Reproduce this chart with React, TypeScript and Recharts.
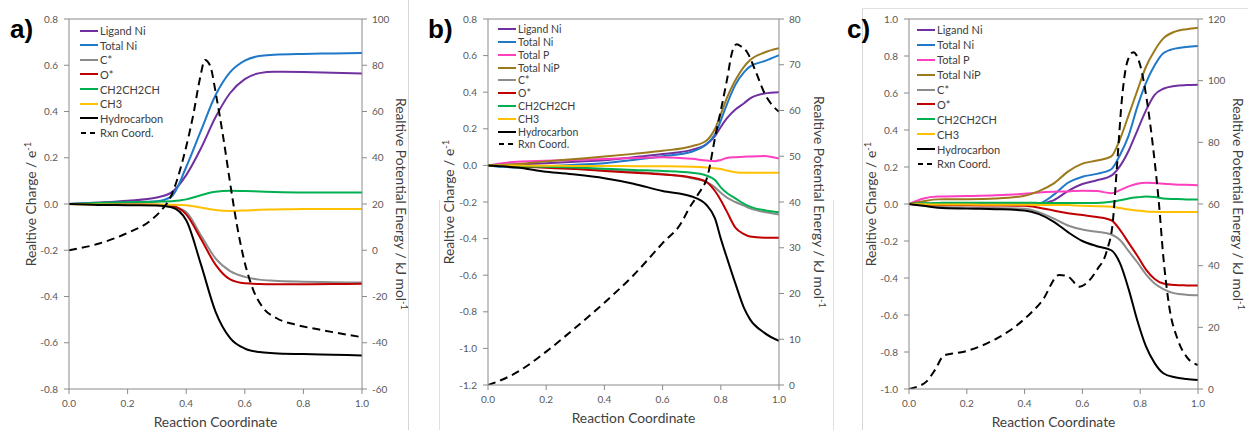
import { LineChart, Line, XAxis, YAxis, ReferenceLine } from "recharts";
import type { FC, ReactNode } from "react";

// ---- shared ----
const xTicks = [0, 0.2, 0.4, 0.6, 0.8, 1];

const COLORS: Record<string, string> = {
  ligandNi: "#7030a0",
  totalNi: "#1f78c8",
  totalP: "#ff3fbf",
  totalNiP: "#9c7a1c",
  cStar: "#8c8c8c",
  oStar: "#c00000",
  ch2: "#00b050",
  ch3: "#ffc000",
  hydro: "#000000",
};

const NAMES: Record<string, string> = {
  ligandNi: "Ligand Ni",
  totalNi: "Total Ni",
  totalP: "Total P",
  totalNiP: "Total NiP",
  cStar: "C*",
  oStar: "O*",
  ch2: "CH2CH2CH",
  ch3: "CH3",
  hydro: "Hydrocarbon",
};

// ---- panel a ----
const aX = [0, 0.1, 0.2, 0.3, 0.35, 0.4, 0.45, 0.5, 0.55, 0.6, 0.65, 0.7, 0.8, 0.9, 1.0];
const aLigandNi = [0, 0.006, 0.014, 0.028, 0.05, 0.125, 0.24, 0.375, 0.48, 0.54, 0.566, 0.572, 0.571, 0.568, 0.564];
const aTotalNi = [0, 0.004, 0.007, 0.012, 0.033, 0.16, 0.316, 0.47, 0.57, 0.62, 0.64, 0.645, 0.649, 0.651, 0.653];
const aCStar = [0, -0.002, -0.003, -0.004, -0.01, -0.035, -0.135, -0.235, -0.29, -0.315, -0.327, -0.332, -0.336, -0.338, -0.34];
const aOStar = [0, -0.001, -0.002, -0.003, -0.008, -0.045, -0.15, -0.262, -0.326, -0.343, -0.346, -0.347, -0.347, -0.346, -0.345];
const aCh2 = [0, 0.004, 0.008, 0.01, 0.012, 0.02, 0.038, 0.053, 0.057, 0.056, 0.054, 0.052, 0.05, 0.05, 0.05];
const aCh3 = [0, -0.002, -0.002, -0.002, -0.003, -0.005, -0.015, -0.026, -0.03, -0.028, -0.025, -0.024, -0.022, -0.022, -0.022];
const aHydro = [0, -0.004, -0.005, -0.006, -0.014, -0.07, -0.26, -0.465, -0.58, -0.625, -0.64, -0.645, -0.649, -0.652, -0.655];
const aRxnX = [0, 0.1, 0.2, 0.28, 0.32, 0.345, 0.39, 0.424, 0.447, 0.464, 0.481, 0.504, 0.527, 0.55, 0.572, 0.595, 0.629, 0.663, 0.709, 0.777, 0.85, 0.9, 1.0];
const aRxnE = [0, 2.8, 7.5, 13, 18, 22.5, 39.8, 58.5, 74.3, 82.3, 80, 65.7, 48.4, 29, 11.7, -2.8, -17.2, -25, -29.4, -32.3, -34.2, -35.4, -37.6];
const aChargeTicks = [-0.8, -0.6, -0.4, -0.2, 0, 0.2, 0.4, 0.6, 0.8];
const aEnergyTicks = [-60, -40, -20, 0, 20, 40, 60, 80, 100];

// ---- panel b ----
const bX = [0, 0.05, 0.1, 0.2, 0.3, 0.4, 0.5, 0.6, 0.7, 0.75, 0.78, 0.8, 0.82, 0.85, 0.88, 0.9, 0.95, 1.0];
const bLigandNi = [0, 0.002, 0.005, 0.012, 0.02, 0.028, 0.045, 0.062, 0.085, 0.115, 0.16, 0.21, 0.255, 0.305, 0.34, 0.365, 0.393, 0.4];
const bTotalNi = [0, -0.008, -0.012, -0.005, 0.004, 0.012, 0.03, 0.05, 0.075, 0.115, 0.17, 0.245, 0.33, 0.44, 0.51, 0.54, 0.57, 0.603];
const bTotalP = [0, 0.012, 0.02, 0.025, 0.03, 0.035, 0.04, 0.045, 0.036, 0.027, 0.023, 0.03, 0.04, 0.045, 0.047, 0.049, 0.052, 0.037];
const bTotalNiP = [0, 0.004, 0.008, 0.022, 0.035, 0.048, 0.063, 0.08, 0.105, 0.135, 0.2, 0.28, 0.365, 0.465, 0.54, 0.575, 0.617, 0.64];
const bCStar = [0, -0.003, -0.005, -0.01, -0.017, -0.025, -0.035, -0.047, -0.07, -0.09, -0.12, -0.15, -0.175, -0.2, -0.22, -0.235, -0.255, -0.268];
const bOStar = [0, -0.003, -0.006, -0.013, -0.02, -0.03, -0.04, -0.05, -0.066, -0.09, -0.14, -0.19, -0.25, -0.34, -0.375, -0.388, -0.395, -0.396];
const bCh2 = [0, -0.002, -0.004, -0.008, -0.012, -0.018, -0.025, -0.03, -0.04, -0.055, -0.08, -0.12, -0.15, -0.18, -0.21, -0.225, -0.245, -0.256];
const bCh3 = [0, 0, -0.001, -0.002, -0.003, -0.003, -0.004, -0.005, -0.008, -0.012, -0.016, -0.02, -0.028, -0.037, -0.04, -0.04, -0.04, -0.04];
const bHydro = [0, -0.005, -0.012, -0.035, -0.05, -0.07, -0.1, -0.14, -0.17, -0.215, -0.29, -0.4, -0.5, -0.645, -0.78, -0.84, -0.915, -0.959];
const bRxnX = [0, 0.05, 0.1, 0.2, 0.3, 0.4, 0.5, 0.6, 0.665, 0.69, 0.72, 0.757, 0.78, 0.8, 0.82, 0.84, 0.855, 0.87, 0.89, 0.92, 0.95, 1.0];
const bRxnE = [0, 1.2, 2.8, 7.3, 12.5, 18, 24, 31, 35.5, 38.5, 41.5, 46.3, 54, 60, 66.3, 73, 74.5, 74, 72.8, 68.5, 63.8, 59.7];
const bChargeTicks = [-1.2, -1.0, -0.8, -0.6, -0.4, -0.2, 0, 0.2, 0.4, 0.6, 0.8];
const bEnergyTicks = [0, 10, 20, 30, 40, 50, 60, 70, 80];

// ---- panel c ----
const cX = [0, 0.05, 0.1, 0.2, 0.3, 0.4, 0.45, 0.5, 0.55, 0.6, 0.65, 0.7, 0.73, 0.76, 0.79, 0.82, 0.85, 0.88, 0.92, 0.96, 1.0];
const cLigandNi = [0, 0.001, 0.002, 0.002, 0.002, 0.002, 0.003, 0.02, 0.07, 0.108, 0.128, 0.153, 0.205, 0.288, 0.397, 0.506, 0.59, 0.623, 0.638, 0.643, 0.645];
const cTotalNi = [0, 0.001, 0.001, 0.001, 0.001, 0.001, 0.004, 0.049, 0.115, 0.147, 0.163, 0.188, 0.265, 0.37, 0.525, 0.655, 0.75, 0.815, 0.84, 0.849, 0.854];
const cTotalP = [0, 0.03, 0.04, 0.043, 0.047, 0.055, 0.062, 0.066, 0.068, 0.072, 0.07, 0.058, 0.075, 0.095, 0.11, 0.115, 0.113, 0.11, 0.106, 0.104, 0.102];
const cTotalNiP = [0, 0.015, 0.025, 0.026, 0.03, 0.045, 0.07, 0.11, 0.175, 0.218, 0.235, 0.258, 0.35, 0.48, 0.613, 0.742, 0.83, 0.895, 0.932, 0.945, 0.953];
const cCStar = [0, -0.008, -0.015, -0.02, -0.022, -0.025, -0.045, -0.078, -0.116, -0.138, -0.15, -0.165, -0.195, -0.255, -0.315, -0.38, -0.43, -0.46, -0.483, -0.49, -0.493];
const cOStar = [0, -0.003, -0.005, -0.007, -0.008, -0.01, -0.02, -0.035, -0.05, -0.06, -0.07, -0.088, -0.14, -0.21, -0.28, -0.355, -0.405, -0.43, -0.438, -0.44, -0.441];
const cCh2 = [0, 0.004, 0.006, 0.007, 0.007, 0.007, 0.006, 0.005, 0.005, 0.005, 0.006, 0.012, 0.02, 0.03, 0.036, 0.04, 0.038, 0.03, 0.027, 0.025, 0.025];
const cCh3 = [0, -0.002, -0.003, -0.003, -0.004, -0.004, -0.005, -0.005, -0.006, -0.01, -0.012, -0.015, -0.022, -0.03, -0.035, -0.04, -0.042, -0.043, -0.043, -0.043, -0.043];
const cHydro = [0, -0.01, -0.02, -0.025, -0.028, -0.035, -0.055, -0.095, -0.152, -0.2, -0.228, -0.25, -0.32, -0.46, -0.63, -0.77, -0.86, -0.915, -0.937, -0.946, -0.951];
const cRxnX = [0, 0.03, 0.06, 0.09, 0.12, 0.15, 0.19, 0.25, 0.3, 0.36, 0.42, 0.46, 0.52, 0.55, 0.59, 0.62, 0.65, 0.685, 0.705, 0.72, 0.737, 0.755, 0.776, 0.8, 0.822, 0.845, 0.865, 0.88, 0.9, 0.93, 0.96, 1.0];
const cRxnE = [0, 0.8, 2.4, 6.2, 10.8, 11.5, 12.1, 14, 16.2, 19.7, 24.5, 28.5, 37, 36.5, 33.2, 34.8, 38.6, 45, 54, 72.7, 94.3, 106, 109.2, 105, 94.3, 78, 60, 42.9, 27, 16, 10.5, 7.8];
const cChargeTicks = [-1.0, -0.8, -0.6, -0.4, -0.2, 0, 0.2, 0.4, 0.6, 0.8, 1.0];
const cEnergyTicks = [0, 20, 40, 60, 80, 100, 120];

const AXIS = "#8a8a8a";
const TICK = { fill: "#595959", fontSize: 10, fontFamily: "Lato, sans-serif" };

interface Series {
  key: string;
  values: number[];
}

interface PanelProps {
  tag: string;
  left: number;
  width: number;
  plotLeft: number;
  plotRight: number;
  plotBottom: number;
  xs: number[];
  series: Series[];
  rxnX: number[];
  rxnE: number[];
  chargeTicks: number[];
  energyTicks: number[];
  legendLeft: number;
  legendTop: number;
  legendStep: number;
  legendFont: number;
  leftTitleX: number;
  rightTitleX: number;
  xTitleY: number;
}

const Rotated: FC<{ x: number; y: number; angle: number; children: ReactNode }> = ({ x, y, angle, children }) => (
  <div
    style={{
      position: "absolute",
      left: x,
      top: y,
      transform: `translate(-50%, -50%) rotate(${angle}deg)`,
      whiteSpace: "nowrap",
      fontFamily: "Lato, sans-serif",
      fontSize: 13.8,
      color: "#404040",
      lineHeight: "16px",
    }}
  >
    {children}
  </div>
);

const Sup: FC<{ children: ReactNode }> = ({ children }) => (
  <span style={{ fontSize: 9.5, position: "relative", top: -5 }}>{children}</span>
);

const Panel: FC<PanelProps> = (p) => {
  const rows = p.xs.map((x, i) => {
    const row: Record<string, number> = { x };
    p.series.forEach((s) => {
      row[s.key] = s.values[i];
    });
    return row;
  });
  const rxnRows = p.rxnX.map((x, i) => ({ x, e: p.rxnE[i] }));
  const cMin = p.chargeTicks[0];
  const cMax = p.chargeTicks[p.chargeTicks.length - 1];
  const eMin = p.energyTicks[0];
  const eMax = p.energyTicks[p.energyTicks.length - 1];
  const plotMid = (19 + p.plotBottom) / 2;

  return (
    <div style={{ position: "absolute", left: p.left, top: 0, width: p.width, height: 430 }}>
      <LineChart
        width={p.width}
        height={430}
        data={rows}
        margin={{ top: 19, left: p.plotLeft - 50, right: p.width - p.plotRight - 40, bottom: 430 - p.plotBottom - 20 }}
      >
        <XAxis
          dataKey="x"
          type="number"
          domain={[0, 1]}
          ticks={xTicks}
          tickFormatter={(v: number) => v.toFixed(1)}
          tick={TICK}
          height={20}
          tickSize={5}
          tickMargin={6}
          axisLine={{ stroke: AXIS }}
          tickLine={{ stroke: AXIS }}
          allowDataOverflow
        />
        <YAxis
          yAxisId="left"
          type="number"
          domain={[cMin, cMax]}
          ticks={p.chargeTicks}
          tickFormatter={(v: number) => v.toFixed(1)}
          tick={TICK}
          width={50}
          tickSize={5}
          tickMargin={6}
          axisLine={{ stroke: AXIS }}
          tickLine={{ stroke: AXIS }}
          allowDataOverflow
        />
        <YAxis
          yAxisId="right"
          orientation="right"
          type="number"
          domain={[eMin, eMax]}
          ticks={p.energyTicks}
          tick={TICK}
          width={40}
          tickSize={5}
          tickMargin={5}
          axisLine={{ stroke: AXIS }}
          tickLine={{ stroke: AXIS }}
          allowDataOverflow
        />
        <ReferenceLine yAxisId="left" y={cMax} stroke={AXIS} strokeWidth={1} />
        {p.series.map((s) => (
          <Line
            key={s.key}
            yAxisId="left"
            type="monotone"
            dataKey={s.key}
            stroke={COLORS[s.key]}
            strokeWidth={2}
            dot={false}
            activeDot={false}
            isAnimationActive={false}
          />
        ))}
        <Line
          yAxisId="right"
          data={rxnRows}
          type="monotone"
          dataKey="e"
          stroke="#000"
          strokeWidth={2}
          strokeDasharray="8 5"
          dot={false}
          activeDot={false}
          isAnimationActive={false}
        />
      </LineChart>

      {/* legend */}
      <div style={{ position: "absolute", left: p.legendLeft, top: p.legendTop, fontFamily: "Lato, sans-serif", fontSize: p.legendFont, color: "#404040" }}>
        {[...p.series.map((s) => s.key), "rxn"].map((k) => (
          <div key={k} style={{ display: "flex", alignItems: "center", height: p.legendStep, whiteSpace: "nowrap" }}>
            <svg width={18} height={6} style={{ marginRight: 2 }}>
              {k === "rxn" ? (
                <line x1={1} y1={3} x2={18} y2={3} stroke="#000" strokeWidth={2} strokeDasharray="5 4" />
              ) : (
                <line x1={0} y1={3} x2={18} y2={3} stroke={COLORS[k]} strokeWidth={2} />
              )}
            </svg>
            {k === "rxn" ? "Rxn Coord." : NAMES[k]}
          </div>
        ))}
      </div>

      {/* panel tag */}
      <div style={{ position: "absolute", left: p.tag === "a)" ? 10 : p.tag === "b)" ? 13 : 17, top: 13, fontFamily: "'Liberation Sans', Arial, sans-serif", fontWeight: "bold", fontSize: 26, lineHeight: "32px", color: "#000" }}>
        {p.tag}
      </div>

      <Rotated x={p.leftTitleX} y={plotMid} angle={-90}>
        Realtive Charge / e<Sup>-1</Sup>
      </Rotated>
      <Rotated x={p.rightTitleX} y={plotMid} angle={90}>
        Realtive Potential Energy / kJ mol<Sup>-1</Sup>
      </Rotated>
      <Rotated x={(p.plotLeft + p.plotRight) / 2} y={p.xTitleY} angle={0}>
        Reaction Coordinate
      </Rotated>
    </div>
  );
};

const aSeries: Series[] = [
  { key: "ligandNi", values: aLigandNi },
  { key: "totalNi", values: aTotalNi },
  { key: "cStar", values: aCStar },
  { key: "oStar", values: aOStar },
  { key: "ch2", values: aCh2 },
  { key: "ch3", values: aCh3 },
  { key: "hydro", values: aHydro },
];

const bSeries: Series[] = [
  { key: "ligandNi", values: bLigandNi },
  { key: "totalNi", values: bTotalNi },
  { key: "totalP", values: bTotalP },
  { key: "totalNiP", values: bTotalNiP },
  { key: "cStar", values: bCStar },
  { key: "oStar", values: bOStar },
  { key: "ch2", values: bCh2 },
  { key: "ch3", values: bCh3 },
  { key: "hydro", values: bHydro },
];

const cSeries: Series[] = [
  { key: "ligandNi", values: cLigandNi },
  { key: "totalNi", values: cTotalNi },
  { key: "totalP", values: cTotalP },
  { key: "totalNiP", values: cTotalNiP },
  { key: "cStar", values: cCStar },
  { key: "oStar", values: cOStar },
  { key: "ch2", values: cCh2 },
  { key: "ch3", values: cCh3 },
  { key: "hydro", values: cHydro },
];

export default function App() {
  return (
    <div style={{ position: "absolute", left: 0, top: 0, width: 1248, height: 430, background: "#fff", overflow: "hidden" }}>
      {/* faint frame lines of the source figure */}
      <svg width={1248} height={430} style={{ position: "absolute", left: 0, top: 0 }}>
        <line x1={408.5} y1={0} x2={408.5} y2={430} stroke="#d6d6d6" />
        <line x1={439.5} y1={200} x2={439.5} y2={430} stroke="#e0e0e0" />
        <line x1={833.5} y1={200} x2={833.5} y2={430} stroke="#e0e0e0" />
        <line x1={862.5} y1={8} x2={862.5} y2={430} stroke="#d6d6d6" />
        <line x1={862} y1={8.5} x2={1248} y2={8.5} stroke="#e0e0e0" />
      </svg>
      <Panel
        tag="a)"
        left={0}
        width={410}
        plotLeft={69}
        plotRight={362}
        plotBottom={389}
        xs={aX}
        series={aSeries}
        rxnX={aRxnX}
        rxnE={aRxnE}
        chargeTicks={aChargeTicks}
        energyTicks={aEnergyTicks}
        legendLeft={80}
        legendTop={23.4}
        legendStep={14.6}
        legendFont={11}
        leftTitleX={32}
        rightTitleX={400}
        xTitleY={422}
      />
      <Panel
        tag="b)"
        left={415}
        width={415}
        plotLeft={73}
        plotRight={364}
        plotBottom={385}
        xs={bX}
        series={bSeries}
        rxnX={bRxnX}
        rxnE={bRxnE}
        chargeTicks={bChargeTicks}
        energyTicks={bEnergyTicks}
        legendLeft={83}
        legendTop={22.9}
        legendStep={12.8}
        legendFont={10.5}
        leftTitleX={35}
        rightTitleX={403}
        xTitleY={418}
      />
      <Panel
        tag="c)"
        left={830}
        width={418}
        plotLeft={79}
        plotRight={368}
        plotBottom={389}
        xs={cX}
        series={cSeries}
        rxnX={cRxnX}
        rxnE={cRxnE}
        chargeTicks={cChargeTicks}
        energyTicks={cEnergyTicks}
        legendLeft={87}
        legendTop={22.5}
        legendStep={14.9}
        legendFont={11}
        leftTitleX={42}
        rightTitleX={407}
        xTitleY={422}
      />
    </div>
  );
}
